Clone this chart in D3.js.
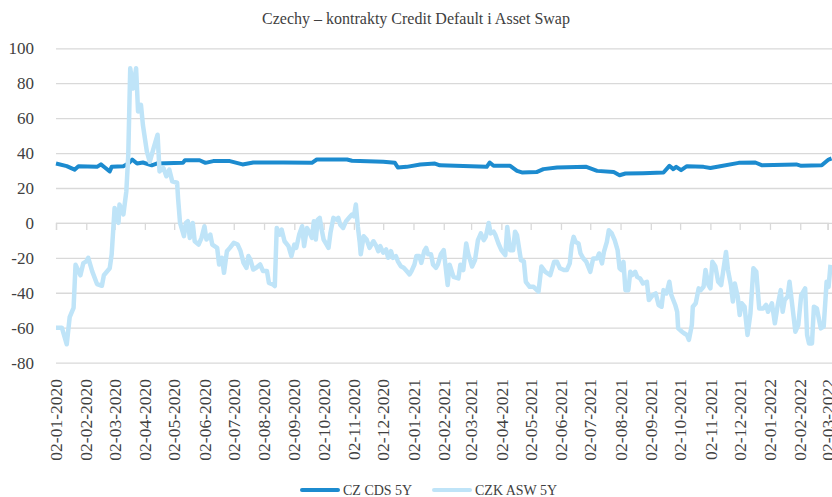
<!DOCTYPE html>
<html>
<head>
<meta charset="utf-8">
<script src="https://cdn.jsdelivr.net/npm/d3@7"></script>
<style>
  body { margin: 0; background: #fff; }
  svg { display: block; font-family: "Liberation Serif", serif; }
  .grid line { stroke: #d9d9d9; stroke-width: 1.3; }
  .grid path { display: none; }
</style>
</head>
<body>
<div id="chart"></div>
<script>
// Czech CDS 5Y
var cdsDates = ["2020-01-02","2020-01-13","2020-01-21","2020-01-25","2020-02-13","2020-02-17","2020-02-21","2020-02-26","2020-02-28","2020-03-11","2020-03-16","2020-03-20","2020-03-25","2020-03-31","2020-04-09","2020-04-14","2020-05-11","2020-05-13","2020-05-28","2020-06-03","2020-06-11","2020-06-28","2020-07-11","2020-07-22","2020-08-22","2020-09-20","2020-09-25","2020-10-26","2020-10-31","2020-12-02","2020-12-14","2020-12-17","2020-12-26","2021-01-09","2021-01-24","2021-01-29","2021-03-18","2021-03-21","2021-03-25","2021-04-11","2021-04-18","2021-04-23","2021-05-08","2021-05-15","2021-05-29","2021-06-28","2021-07-09","2021-07-26","2021-08-01","2021-08-07","2021-08-25","2021-09-15","2021-09-21","2021-09-25","2021-09-28","2021-10-03","2021-10-09","2021-10-26","2021-11-02","2021-11-12","2021-12-01","2021-12-18","2021-12-25","2022-01-29","2022-02-03","2022-02-24","2022-03-03","2022-03-06"];
var cdsValues = [34,32.5,30.5,32.5,32.1,33.5,31.7,29.5,32.1,32.5,34,36.3,34,34.6,33,34,34.4,35.9,35.9,34.4,35.4,35.4,33.5,34.6,34.6,34.4,36.3,36.3,35.6,35,34.4,31.7,32.1,33.5,34,33,32.1,34.6,32.7,32.7,29.8,28.9,29.1,30.8,31.7,32.1,29.8,29.1,27.3,28.3,28.5,28.9,32.7,30.8,32.1,30.2,32.5,32.1,31.5,32.5,34.4,34.6,33,33.5,32.7,33,36.3,36.9];

// CZK asset swap 5Y
var aswDates = ["2020-01-02","2020-01-08","2020-01-13","2020-01-16","2020-01-20","2020-01-22","2020-01-27","2020-01-30","2020-02-02","2020-02-04","2020-02-08","2020-02-13","2020-02-18","2020-02-20","2020-02-26","2020-02-28","2020-03-02","2020-03-06","2020-03-07","2020-03-11","2020-03-14","2020-03-16","2020-03-18","2020-03-21","2020-03-24","2020-03-26","2020-03-29","2020-03-31","2020-04-04","2020-04-07","2020-04-11","2020-04-15","2020-04-17","2020-04-21","2020-04-24","2020-04-27","2020-04-30","2020-05-05","2020-05-06","2020-05-08","2020-05-12","2020-05-14","2020-05-16","2020-05-18","2020-05-21","2020-05-23","2020-05-27","2020-05-30","2020-06-02","2020-06-04","2020-06-08","2020-06-10","2020-06-15","2020-06-17","2020-06-20","2020-06-22","2020-06-25","2020-06-28","2020-07-02","2020-07-06","2020-07-09","2020-07-12","2020-07-15","2020-07-17","2020-07-19","2020-07-22","2020-07-25","2020-07-29","2020-08-01","2020-08-05","2020-08-07","2020-08-11","2020-08-13","2020-08-15","2020-08-18","2020-08-20","2020-08-23","2020-08-27","2020-08-30","2020-09-02","2020-09-04","2020-09-07","2020-09-10","2020-09-12","2020-09-15","2020-09-18","2020-09-20","2020-09-22","2020-09-24","2020-09-26","2020-09-28","2020-09-30","2020-10-02","2020-10-04","2020-10-07","2020-10-09","2020-10-12","2020-10-15","2020-10-17","2020-10-19","2020-10-22","2020-10-25","2020-10-28","2020-10-31","2020-11-02","2020-11-04","2020-11-06","2020-11-08","2020-11-09","2020-11-12","2020-11-15","2020-11-18","2020-11-22","2020-11-25","2020-11-27","2020-11-29","2020-12-02","2020-12-05","2020-12-07","2020-12-10","2020-12-12","2020-12-15","2020-12-17","2020-12-20","2020-12-23","2020-12-26","2020-12-29","2020-12-31","2021-01-03","2021-01-05","2021-01-08","2021-01-10","2021-01-13","2021-01-15","2021-01-17","2021-01-20","2021-01-22","2021-01-25","2021-01-27","2021-01-30","2021-02-02","2021-02-06","2021-02-08","2021-02-12","2021-02-17","2021-02-19","2021-02-22","2021-02-25","2021-02-27","2021-03-03","2021-03-06","2021-03-09","2021-03-12","2021-03-15","2021-03-17","2021-03-20","2021-03-22","2021-03-25","2021-03-27","2021-03-30","2021-04-02","2021-04-06","2021-04-08","2021-04-11","2021-04-14","2021-04-16","2021-04-18","2021-04-22","2021-04-25","2021-04-27","2021-05-01","2021-05-05","2021-05-10","2021-05-13","2021-05-17","2021-05-22","2021-05-26","2021-05-29","2021-06-01","2021-06-05","2021-06-08","2021-06-11","2021-06-13","2021-06-15","2021-06-17","2021-06-20","2021-06-22","2021-06-25","2021-06-28","2021-07-02","2021-07-05","2021-07-09","2021-07-11","2021-07-14","2021-07-16","2021-07-19","2021-07-21","2021-07-24","2021-07-27","2021-07-30","2021-08-01","2021-08-03","2021-08-05","2021-08-07","2021-08-10","2021-08-12","2021-08-14","2021-08-17","2021-08-19","2021-08-22","2021-08-25","2021-08-29","2021-08-31","2021-09-04","2021-09-07","2021-09-10","2021-09-13","2021-09-15","2021-09-18","2021-09-21","2021-09-23","2021-09-27","2021-09-29","2021-09-30","2021-10-04","2021-10-06","2021-10-09","2021-10-11","2021-10-14","2021-10-15","2021-10-18","2021-10-21","2021-10-23","2021-10-26","2021-10-28","2021-10-31","2021-11-02","2021-11-04","2021-11-07","2021-11-10","2021-11-13","2021-11-15","2021-11-18","2021-11-20","2021-11-23","2021-11-25","2021-11-27","2021-11-30","2021-12-02","2021-12-04","2021-12-07","2021-12-10","2021-12-13","2021-12-16","2021-12-19","2021-12-22","2021-12-26","2021-12-29","2021-12-31","2022-01-04","2022-01-07","2022-01-10","2022-01-13","2022-01-15","2022-01-17","2022-01-20","2022-01-22","2022-01-25","2022-01-28","2022-01-31","2022-02-03","2022-02-07","2022-02-09","2022-02-11","2022-02-14","2022-02-16","2022-02-19","2022-02-23","2022-02-26","2022-03-01","2022-03-03","2022-03-05"];
var aswValues = [-60,-60,-69.5,-54,-48.6,-24,-30,-23,-22,-20,-27.6,-35,-36,-30,-26,-18,8.6,0,10.5,4.8,18,39,88.6,77,88.6,63.8,67.6,56,41,35,43,50.5,29.5,31.4,26.7,30.5,23.8,23,14,0,-7.6,0,1,-8.6,0,-10.5,-12.4,-8.6,-2,-9.5,-6.7,-12.4,-14.3,-23.8,-20,-28.6,-16.2,-14.3,-11.4,-12.4,-16.2,-22.9,-25.7,-19,-21,-26.7,-25.7,-23.8,-27.6,-27.6,-34.3,-35.2,-36.2,-2.9,-6.7,-3.8,-10.5,-13.3,-19,-12.4,-14.3,-6.7,-1.9,-13.3,-2.9,-6,-8.6,1,-9.5,1.9,2.9,-3.8,-9.5,-11.4,-14.3,-5.7,2.9,1.9,2.9,-1,-2.9,1,2.9,4.8,3.8,10.5,-1.9,-11.4,-18,-7.6,-9.5,-14.3,-10.5,-13.3,-16.2,-13.3,-17,-15.2,-20,-16.2,-20,-19,-22,-24.8,-25.7,-27.6,-29.5,-27.6,-23.8,-19,-19,-22.9,-16.2,-14.3,-18,-18,-23.8,-25.7,-23.8,-18,-15.6,-35.6,-24,-30.9,-31.8,-24,-27,-11.8,-17.5,-25,-21.3,-9.9,-6,-9.9,-8,0,-6,-5,-7,-11.8,-15.6,-18.5,-2.3,-15.6,-15.6,-5,-7,-21.3,-22,-33.7,-36.6,-36.6,-39.4,-25,-28,-29.9,-22.3,-22.3,-26,-27,-27,-23.2,-12.8,-8,-10.9,-11.8,-17.5,-20.4,-22.3,-28,-20.4,-20.4,-17.5,-23.2,-16.6,-10.9,-4.2,-6,-9.9,-15.6,-26,-27,-22.3,-38.5,-38.5,-28,-29.9,-28,-30.9,-31.8,-34.7,-33.7,-44.2,-41.3,-40.4,-47,-48,-38.5,-40.4,-33.7,-41.3,-47,-50.9,-60.4,-62.3,-63.2,-64.2,-67,-58.5,-48,-46,-37.5,-38.5,-36.6,-27,-35.6,-37.5,-22.3,-24.8,-33.7,-35.6,-28,-16.6,-27,-35.6,-45,-34.7,-42.3,-52.8,-46,-48,-64.2,-51.8,-26,-28,-49,-49,-47,-50.9,-46,-57.5,-47,-38.5,-50.9,-44.2,-42.3,-33.7,-48,-62.3,-58.5,-41.3,-37.5,-64.2,-69,-69,-48,-49,-60.4,-59.4,-33.7,-36.6,-24];

var yTicks = [-80, -60, -40, -20, 0, 20, 40, 60, 80, 100];
var seriesNames = ["CZ CDS 5Y", "CZK ASW 5Y"];
var titleText = "Czechy \u2013 kontrakty Credit Default i Asset Swap";

var width = 832, height = 497;
var colCds = "#1c8bcf", colAsw = "#bfe4f8", textCol = "#404040";

var parse = d3.timeParse("%Y-%m-%d");
var fmt = d3.timeFormat("%d-%m-%Y");

var cds = cdsDates.map(function(d, i) { return {date: parse(d), value: cdsValues[i]}; });
var asw = aswDates.map(function(d, i) { return {date: parse(d), value: aswValues[i]}; });

// Scales
var x = d3.scaleTime()
    .domain([parse("2020-01-02"), parse("2022-03-02")])
    .range([56, 827.6]);

var y = d3.scaleLinear()
    .domain([-80, 100])
    .range([362.6, 48.3]);

var svg = d3.select("#chart").append("svg")
    .attr("width", width)
    .attr("height", height);

// Title
svg.append("text")
    .attr("x", width / 2)
    .attr("y", 24)
    .attr("text-anchor", "middle")
    .style("font-size", "16px")
    .attr("fill", textCol)
    .text(titleText);

// horizontal gridlines + y labels
svg.append("g")
    .attr("class", "grid")
    .attr("transform", "translate(56,0)")
    .call(d3.axisLeft(y).tickValues(yTicks).tickSize(-(width - 56 + 10)).tickFormat(""));

svg.append("g")
    .selectAll("text")
    .data(yTicks)
    .enter()
    .append("text")
        .attr("x", 34)
        .attr("y", function(d) { return y(d); })
        .attr("dy", "0.35em")
        .attr("text-anchor", "end")
        .style("font-size", "17px")
        .attr("fill", textCol)
        .text(function(d) { return d; });

// x axis on the zero line, monthly ticks
var months = d3.timeMonth.every(1).range(parse("2020-01-01"), parse("2022-03-03"))
    .map(function(m) { return d3.timeDay.offset(m, 1); });

var xAxis = svg.append("g")
    .attr("transform", "translate(0," + y(0) + ")")
    .call(d3.axisBottom(x).tickValues(months).tickSize(7).tickFormat(""));
xAxis.select(".domain").attr("stroke", "#d9d9d9").attr("stroke-width", 1.3);
xAxis.selectAll(".tick line").attr("stroke", "#d9d9d9").attr("stroke-width", 1.3);

svg.append("g")
    .selectAll("text")
    .data(months)
    .enter()
    .append("text")
        .attr("transform", function(d) { return "translate(" + x(d) + ",379)rotate(-90)"; })
        .attr("dy", "0.35em")
        .attr("text-anchor", "end")
        .style("font-size", "17.5px")
        .attr("fill", textCol)
        .text(function(d) { return fmt(d); });

// Lines
var line = d3.line()
    .x(function(d) { return x(d.date); })
    .y(function(d) { return y(d.value); });

svg.append("path")
    .datum(cds)
    .attr("fill", "none")
    .attr("stroke", colCds)
    .attr("stroke-width", 4)
    .attr("stroke-linejoin", "round")
    .attr("d", line);

svg.append("path")
    .datum(asw)
    .attr("fill", "none")
    .attr("stroke", colAsw)
    .attr("stroke-width", 4.5)
    .attr("stroke-linejoin", "round")
    .attr("d", line);

// Legend
var legend = svg.append("g");
var legX = [300, 432];
[colCds, colAsw].forEach(function(c, i) {
    legend.append("line")
        .attr("x1", legX[i] + 2).attr("x2", legX[i] + 38)
        .attr("y1", 490).attr("y2", 490)
        .attr("stroke", c)
        .attr("stroke-width", 4)
        .attr("stroke-linecap", "round");
    legend.append("text")
        .attr("x", legX[i] + 43)
        .attr("y", 495)
        .style("font-size", "14px")
        .attr("fill", textCol)
        .text(seriesNames[i]);
});
</script>
</body>
</html>
